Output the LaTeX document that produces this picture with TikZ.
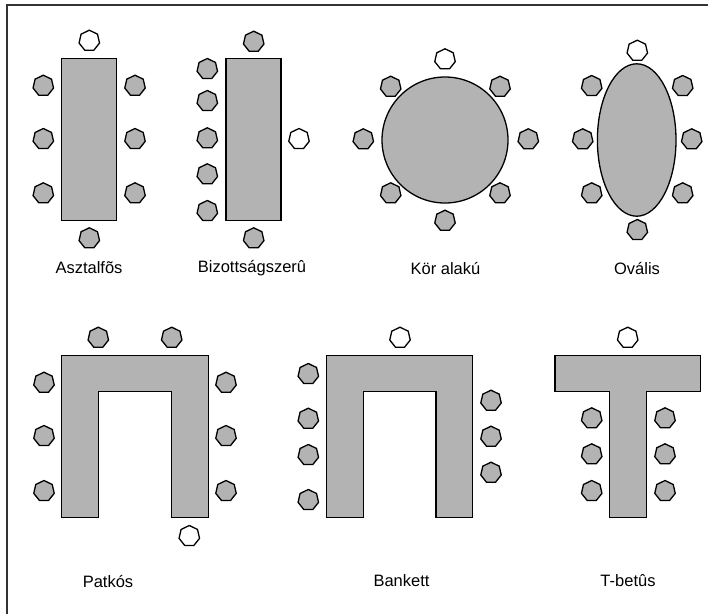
\documentclass[tikz,border=0pt]{standalone}
\usepackage{fontspec}
\setmainfont{Liberation Sans}
\usetikzlibrary{shapes.geometric}
\definecolor{tablegray}{RGB}{179,179,179}
\definecolor{framegray}{RGB}{51,51,51}
\begin{document}
\begin{tikzpicture}[x=1pt,y=-1pt,
  tablepart/.style={draw=black, fill=tablegray, line width=1.3pt, line join=miter},
  seat/.style={regular polygon, regular polygon sides=7, minimum size=21pt,
    inner sep=0pt, draw=black, line width=1.3pt, fill=tablegray},
  host/.style={seat, fill=white},
  caption/.style={font=\fontsize{16.5}{19}\selectfont, inner sep=0pt}]
\useasboundingbox (0,0) rectangle (708,614);
% page frame (left and top edges)
\draw[line width=2pt, draw=framegray] (6.7,614) -- (6.7,4.7) -- (708,4.7);

% --- Asztalfos: long table, host at the head ---
\draw[tablepart] (61.7,58.3) rectangle (116.7,220.7);
\node[host] (a0) at (89.3,40.7) {};
\node[seat] (a1) at (43.3,85.7) {};
\node[seat] (a2) at (43.3,139) {};
\node[seat] (a3) at (43.3,193.3) {};
\node[seat] (a4) at (135,85.7) {};
\node[seat] (a5) at (135,139) {};
\node[seat] (a6) at (135,193.3) {};
\node[seat] (a7) at (89.3,238.3) {};
\node[caption] (la) at (89,268) {Asztalfõs};

% --- Bizottsagszeru: committee table, chair on the long side ---
\draw[tablepart] (226,58.3) rectangle (281,220.7);
\node[seat] (b0) at (253.7,41.7) {};
\node[seat] (b1) at (207.3,69) {};
\node[seat] (b2) at (207.3,101) {};
\node[seat] (b3) at (207.3,138.3) {};
\node[seat] (b4) at (207.3,174.3) {};
\node[seat] (b5) at (207.3,211) {};
\node[host] (b6) at (299,139) {};
\node[seat] (b7) at (253.7,238.3) {};
\node[caption] (lb) at (252,268) {Bizottságszerû};

% --- Kor alaku: round table ---
\draw[tablepart] (445,140) circle [radius=63pt];
\node[host] (c0) at (445,59.3) {};
\node[seat] (c1) at (390.7,86.7) {};
\node[seat] (c2) at (500,86.7) {};
\node[seat] (c3) at (363.3,139.3) {};
\node[seat] (c4) at (528.3,139.3) {};
\node[seat] (c5) at (390.7,193.3) {};
\node[seat] (c6) at (500,193.3) {};
\node[seat] (c7) at (445,220.7) {};
\node[caption] (lc) at (445.5,268) {Kör alakú};

% --- Ovalis: oval table ---
\draw[tablepart] (636.7,140) ellipse [x radius=39.3pt, y radius=76.2pt];
\node[host] (d0) at (637.3,50.7) {};
\node[seat] (d1) at (591.7,86) {};
\node[seat] (d2) at (682.7,86) {};
\node[seat] (d3) at (582.7,139.3) {};
\node[seat] (d4) at (691.7,139.3) {};
\node[seat] (d5) at (591.7,193.3) {};
\node[seat] (d6) at (682.7,193.3) {};
\node[seat] (d7) at (637.3,230) {};
\node[caption] (ld) at (637,268) {Ovális};

% --- Patkos: horseshoe ---
\draw[tablepart] (61.7,517.3) -- (61.7,355.7) -- (208.3,355.7) -- (208.3,517.3)
  -- (171.7,517.3) -- (171.7,391.7) -- (98.3,391.7) -- (98.3,517.3) -- cycle;
\node[seat] (e1) at (98.3,337.7) {};
\node[seat] (e2) at (171.7,337.7) {};
\node[seat] (e3) at (44,382.7) {};
\node[seat] (e4) at (44,436) {};
\node[seat] (e5) at (44,491) {};
\node[seat] (e6) at (226,382.7) {};
\node[seat] (e7) at (226,436) {};
\node[seat] (e8) at (226,491) {};
\node[host] (e0) at (189.3,536) {};
\node[caption] (le) at (108,581) {Patkós};

% --- Bankett: banquet ---
\draw[tablepart] (326.7,517.3) -- (326.7,355.7) -- (472.7,355.7) -- (472.7,517.3)
  -- (436,517.3) -- (436,391.7) -- (363.3,391.7) -- (363.3,517.3) -- cycle;
\node[host] (f0) at (400,337.7) {};
\node[seat] (f1) at (308.3,374) {};
\node[seat] (f2) at (308.3,418.7) {};
\node[seat] (f3) at (308.3,455) {};
\node[seat] (f4) at (308.3,500) {};
\node[seat] (f5) at (491,400.7) {};
\node[seat] (f6) at (491,436.7) {};
\node[seat] (f7) at (491,472.7) {};
\node[caption] (lf) at (401.5,581) {Bankett};

% --- T-betus: T-shaped table ---
\draw[tablepart] (555,355.7) -- (700.7,355.7) -- (700.7,391.7) -- (646.7,391.7)
  -- (646.7,517.3) -- (609.3,517.3) -- (609.3,391.7) -- (555,391.7) -- cycle;
\node[host] (g0) at (627.7,337.7) {};
\node[seat] (g1) at (591.7,418.3) {};
\node[seat] (g2) at (591.7,454.3) {};
\node[seat] (g3) at (591.7,491) {};
\node[seat] (g4) at (665,418.3) {};
\node[seat] (g5) at (665,454.3) {};
\node[seat] (g6) at (665,491) {};
\node[caption] (lg) at (628,581) {T-betûs};
\end{tikzpicture}
\end{document}
